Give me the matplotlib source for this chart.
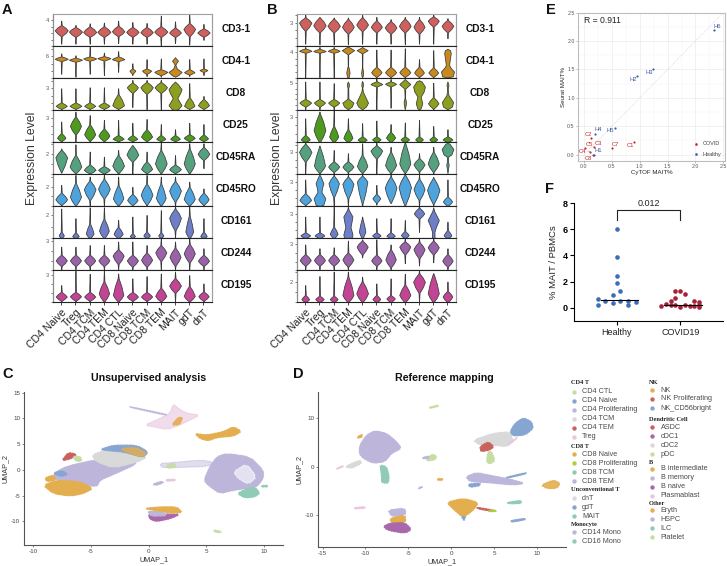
import numpy as np
import matplotlib
matplotlib.use('Agg')
import matplotlib.pyplot as plt

plt.rcParams['font.family'] = ['Liberation Sans', 'DejaVu Sans']
plt.rcParams['axes.unicode_minus'] = False

W, H = 727, 566

cell_types = ['CD4 Naive', 'Treg', 'CD4 TCM', 'CD4 TEM', 'CD4 CTL', 'CD8 Naive',
              'CD8 TCM', 'CD8 TEM', 'MAIT', 'gdT', 'dnT']
genes = ['CD3-1', 'CD4-1', 'CD8', 'CD25', 'CD45RA', 'CD45RO', 'CD161', 'CD244', 'CD195']
gene_colors = ['#D0605E', '#C88A1E', '#8E9E1E', '#4E9A1F', '#55A07E', '#4FA3DC',
               '#6E7FC8', '#9A62A8', '#C24495']

# violins, % of row height: (low, body low, peak, body high, high, width %)
# a list instead of a tuple is a full outline of (y, width %) for the two-lobed ones
a_cd3 = [(8, 32, 50, 66, 80, 100), (8, 30, 46, 60, 67, 100), (8, 30, 45, 62, 72, 100),
         (8, 30, 45, 62, 74, 100), (10, 32, 47, 64, 80, 95), (8, 30, 45, 60, 76, 95),
         (8, 30, 44, 60, 73, 95), (0, 30, 46, 62, 96, 100), (10, 30, 43, 58, 78, 90),
         (5, 32, 54, 72, 100, 90), (20, 30, 43, 56, 70, 95)]
a_cd4 = [(14, 54, 61, 68, 78, 100), (5, 52, 58, 64, 72, 100), (14, 55, 62, 68, 99, 100),
         (10, 56, 63, 69, 80, 100), (20, 54, 60, 68, 85, 95), (10, 15, 24, 30, 47, 45),
         (7, 14, 24, 30, 60, 70), (5, 10, 20, 28, 62, 100),
         [(5, 0), (10, 50), (20, 100), (30, 30), (42, 5), (48, 20), (55, 45), (62, 15), (66, 0)],
         (7, 12, 19, 28, 60, 80), (10, 20, 26, 30, 62, 60)]
a_cd8 = [(3, 5, 14, 24, 69, 85), (3, 5, 14, 24, 69, 90), (3, 5, 14, 24, 72, 85),
         (3, 5, 14, 24, 72, 85), (3, 5, 16, 50, 69, 90), (10, 55, 72, 86, 95, 85),
         (3, 52, 72, 88, 95, 95), (0, 55, 72, 88, 95, 95),
         [(0, 0), (4, 50), (16, 100), (38, 35), (55, 80), (66, 100), (80, 50), (90, 0)],
         (3, 5, 14, 40, 85, 80), (3, 5, 16, 35, 45, 85)]
a_cd25 = [(3, 4, 14, 28, 65, 65), (2, 25, 51, 80, 96, 85), (3, 5, 25, 55, 85, 85),
          (3, 4, 21, 42, 70, 85), (3, 4, 11, 22, 70, 85), (3, 4, 11, 22, 61, 75),
          (3, 4, 18, 40, 73, 85), (3, 4, 11, 22, 57, 70), (3, 4, 11, 22, 41, 75),
          (3, 4, 14, 25, 61, 85), (3, 4, 12, 24, 57, 70)]
a_cd45ra = [(5, 8, 53, 76, 81, 90), (3, 4, 24, 60, 94, 90), (2, 3, 14, 30, 71, 90),
            (2, 3, 14, 25, 55, 90), (3, 4, 27, 60, 76, 90), (0, 40, 62, 90, 92, 90),
            (3, 4, 17, 40, 71, 85), (3, 4, 34, 75, 99, 90), (3, 4, 16, 30, 60, 90),
            (3, 4, 34, 80, 97, 85), (19, 45, 64, 85, 97, 90)]
a_cd45ro = [(0, 5, 22, 42, 67, 90), (0, 3, 30, 72, 98, 85), (0, 20, 53, 80, 93, 90),
            (0, 25, 55, 85, 98, 90), (0, 3, 25, 65, 93, 80), (0, 4, 20, 38, 61, 80),
            (0, 5, 36, 70, 98, 90), (0, 3, 26, 70, 93, 75), (0, 15, 49, 78, 93, 90),
            (0, 3, 23, 60, 77, 85), (0, 5, 22, 42, 56, 80)]
a_cd161 = [(0, 1, 9, 20, 93, 40), (0, 1, 7, 18, 63, 50), (0, 1, 15, 45, 97, 60),
           (0, 1, 24, 60, 97, 75), (0, 1, 14, 35, 58, 70), (0, 1, 7, 15, 68, 40),
           (0, 1, 9, 20, 73, 50), (0, 1, 9, 18, 88, 40), (3, 25, 64, 92, 99, 90),
           (0, 1, 21, 70, 100, 60), (0, 1, 7, 20, 63, 50)]
a_cd244 = [(3, 14, 31, 48, 74, 85), (3, 14, 31, 48, 74, 85), (3, 14, 31, 48, 79, 85),
           (3, 14, 31, 48, 79, 85), (3, 20, 46, 65, 90, 85), (3, 12, 31, 48, 90, 85),
           (3, 12, 33, 55, 79, 85), (3, 30, 56, 78, 100, 85), (3, 15, 42, 70, 90, 85),
           (3, 25, 53, 82, 100, 85), (3, 14, 30, 48, 69, 85)]
a_cd195 = [(3, 5, 18, 32, 54, 85), (1, 5, 19, 32, 99, 85), (1, 5, 18, 32, 89, 85),
           (1, 3, 28, 65, 100, 80), (1, 3, 23, 75, 90, 80), (1, 5, 18, 32, 75, 85),
           (1, 5, 18, 32, 82, 85), (1, 3, 20, 45, 90, 85), (3, 30, 52, 75, 96, 90),
           (1, 3, 20, 50, 85, 85), (1, 5, 19, 33, 59, 80)]

b_cd3 = [(8, 49, 74, 90, 99, 95), (6, 44, 66, 90, 92, 95), (6, 44, 64, 86, 90, 95),
         (6, 40, 61, 85, 90, 90), (8, 48, 68, 90, 99, 90), (8, 44, 61, 80, 92, 85),
         (8, 40, 59, 78, 85, 90), (6, 44, 64, 86, 92, 90), (8, 40, 61, 84, 92, 85),
         (8, 62, 80, 93, 99, 85), (25, 44, 64, 82, 88, 90)]
b_cd4 = [(3, 80, 86, 93, 98, 95), (3, 80, 85, 92, 98, 95), (3, 80, 86, 93, 98, 90),
         [(3, 0), (5, 15), (18, 25), (30, 15), (38, 3), (75, 5), (88, 95), (96, 30), (99, 0)],
         [(3, 0), (8, 10), (18, 15), (28, 8), (35, 3), (78, 5), (88, 85), (95, 20), (98, 0)],
         (3, 5, 19, 35, 90, 80), (3, 5, 19, 35, 90, 85), (3, 5, 19, 35, 94, 85),
         (3, 5, 18, 35, 60, 75), (3, 5, 18, 33, 88, 75),
         [(3, 0), (6, 80), (21, 100), (35, 40), (42, 25), (58, 35), (78, 50), (88, 40), (92, 0)]]
b_cd8 = [(3, 12, 24, 35, 90, 90), (3, 12, 24, 35, 90, 85), (3, 12, 24, 35, 85, 85),
         [(3, 0), (12, 60), (24, 85), (36, 8), (70, 5), (76, 15), (83, 15), (90, 0)],
         [(3, 0), (12, 60), (24, 90), (58, 12), (70, 3), (78, 12), (86, 10), (92, 0)],
         (3, 75, 82, 90, 100, 90), (8, 75, 83, 90, 98, 85),
         [(3, 0), (18, 15), (27, 18), (40, 3), (68, 8), (82, 85), (92, 30), (98, 0)],
         [(3, 0), (6, 25), (22, 50), (43, 25), (58, 70), (74, 90), (90, 40), (94, 0)],
         (3, 6, 22, 40, 86, 80),
         [(3, 0), (12, 70), (26, 85), (48, 15), (68, 3), (78, 15), (84, 10), (90, 0)]]
b_cd25 = [(0, 1, 9, 22, 75, 70), (0, 1, 38, 90, 96, 90), (0, 1, 18, 50, 100, 70),
          (0, 1, 14, 40, 75, 70), (0, 1, 8, 18, 60, 70), (0, 1, 9, 18, 68, 65),
          (0, 1, 15, 32, 57, 70), (0, 1, 9, 18, 62, 65), (0, 1, 9, 18, 70, 60),
          (0, 1, 9, 18, 51, 60), (0, 1, 9, 18, 41, 75)]
b_cd45ra = [(2, 40, 70, 95, 99, 95), (1, 5, 27, 85, 90, 85), (1, 8, 24, 40, 76, 85),
            (1, 8, 24, 40, 66, 85), (1, 5, 26, 60, 97, 80), (1, 50, 74, 90, 99, 90),
            (1, 5, 29, 70, 86, 85), (1, 5, 34, 97, 99, 85), (1, 10, 31, 50, 66, 85),
            (1, 8, 34, 70, 86, 85),
            [(3, 0), (18, 10), (29, 18), (40, 10), (55, 8), (62, 60), (79, 90), (96, 30), (98, 0)]]
b_cd45ro = [(1, 5, 20, 40, 84, 90),
            [(0, 0), (5, 60), (25, 90), (45, 30), (58, 40), (72, 60), (92, 20), (99, 0)],
            (1, 30, 72, 95, 99, 80), (1, 25, 70, 92, 98, 85), (0, 10, 77, 95, 99, 80),
            (5, 12, 25, 38, 67, 60), (10, 12, 58, 92, 99, 90), (0, 4, 60, 98, 99, 95),
            (1, 20, 54, 85, 98, 85), (3, 8, 51, 88, 92, 95), (0, 2, 15, 30, 84, 70)]
b_cd161 = [(0, 1, 9, 18, 68, 75), (0, 1, 9, 18, 68, 75), (0, 1, 14, 35, 99, 60),
           [(0, 0), (2, 60), (12, 70), (35, 40), (68, 70), (90, 10), (100, 0)],
           (0, 1, 21, 60, 68, 50), (0, 1, 9, 18, 63, 65), (0, 1, 8, 18, 63, 65),
           (0, 1, 10, 22, 57, 60), (20, 62, 78, 95, 100, 80),
           [(0, 0), (2, 20), (20, 18), (35, 40), (57, 85), (85, 15), (97, 0)],
           (0, 1, 9, 25, 52, 60)]
b_cd244 = [(3, 15, 32, 50, 81, 85), (3, 15, 32, 50, 69, 85), (3, 15, 32, 50, 72, 85),
           (3, 12, 34, 55, 93, 85), (40, 50, 74, 92, 97, 85), (3, 15, 31, 48, 97, 80),
           (3, 10, 34, 65, 81, 80), (22, 50, 74, 90, 100, 85), (15, 38, 66, 88, 99, 85),
           (25, 50, 72, 92, 99, 85), (3, 12, 30, 50, 69, 80)]
b_cd195 = [(0, 1, 10, 22, 54, 60), (0, 1, 10, 20, 82, 65), (0, 1, 10, 20, 96, 60),
           (0, 1, 23, 80, 96, 85), (0, 1, 28, 65, 80, 90), (0, 1, 10, 22, 59, 60),
           (0, 1, 12, 22, 75, 65), (0, 1, 23, 55, 89, 85), (3, 30, 64, 90, 99, 90),
           (0, 1, 28, 88, 91, 85), (0, 1, 18, 35, 65, 75)]

a_rows = [a_cd3, a_cd4, a_cd8, a_cd25, a_cd45ra, a_cd45ro, a_cd161, a_cd244, a_cd195]
b_rows = [b_cd3, b_cd4, b_cd8, b_cd25, b_cd45ra, b_cd45ro, b_cd161, b_cd244, b_cd195]

# top of the y range of each row, the labelled tick and the tick step
a_ymax = [4.88, 8.8, 4.35, 4.0, 3.2, 3.25, 2.75, 3.3, 3.5]
a_tick = [4, 6, 3, 3, 2, 2, 2, 3, 3]
a_step = [1, 2, 1, 1, 1, 1, 1, 1, 1]
b_ymax = [4.05, 4.9, 5.9, 3.75, 4.4, 3.9, 4.0, 3.65, 3.2]
b_tick = [3, 4, 5, 3, 3, 3, 3, 3, 2]
b_step = [1, 1, 1, 1, 1, 1, 1, 1, 1]

# panel E
healthy_names = ['H1', 'H2', 'H3', 'H4', 'H5', 'H6']
healthy_cytof = [0.18, 0.95, 1.24, 0.19, 0.55, 2.33]
healthy_seurat = [0.0, 1.39, 1.51, 0.37, 0.47, 2.20]
covid_names = ['C1', 'C2', 'C3', 'C4', 'C5', 'C7', 'C8']
covid_cytof = [0.90, 0.126, 0.18, 0.11, 0.02, 0.51, 0.17]
covid_seurat = [0.23, 0.29, 0.14, 0.05, 0.12, 0.12, -0.01]
healthy_label_px = [(4.7, 4), (-3.9, -3.3), (-3.7, -3.3), (3.3, 3.7), (-4.3, -3), (3.3, 3.3)]
covid_label_px = [(-4, -4), (-3, 3.3), (4.7, 3), (-8, 0.7), (4.3, 3.7), (3, 3), (-4.7, -3.3)]

# panel F
f_groups = ['Healthy', 'COVID19']
f_healthy = [6.0, 3.9, 2.4, 1.9, 1.25, 0.95, 0.7, 0.55, 0.55, 0.5, 0.45, 0.35, 0.2, 0.2]
f_healthy_off = [0, 0, 0, 0, 0.057, -0.057, -0.29, -0.177, 0.057, 0.177, 0.297, -0.057, -0.29, 0.177]
f_covid = [0.15, 0.28, 0.2, 0.54, 0.74, 1.25, 1.3, 1.05, 0.23, 0.03, 0.18, 0.15, 0.15, 0.48, 0.43, 0.03, 0.23]
f_covid_off = [-0.297, -0.229, -0.151, -0.151, -0.078, -0.078, 0, 0.073, -0.078, 0, 0.073,
               0.146, 0.219, 0.219, 0.292, 0.292, 0.292]

# umap colours
LAV, TEAL, ORG, GRY = '#BEB5DB', '#8FCBB5', '#E3AE4E', '#D9D9D9'
BLU, RED, PUR, PNK = '#86A6D1', '#C9625C', '#A868AB', '#E8C6DF'
LGR, YGR = '#C6DDA3', '#B2CC3E'

# outlines of the cell clouds in umap coordinates: (colour, alpha, xs, ys)
umap_c = [
    (PNK, 0.6, [-0.32, 0.98, 1.85, 2.14, 2.57, 3.3, 4.45, 3.58, 2.7, 1.56, 0.4],
     [8.7, 10, 11, 12.8, 11.95, 11, 10.65, 9.7, 8.7, 7.85, 8.4]),
    (ORG, 0.9, [2, 2.57, 2.95, 2.7], [8.7, 10.2, 10.2, 8.8]),
    (LAV, 0.8, [-1.6, 1.56, 1.5, -1.6], [12.3, 10.8, 10.6, 12.15]),
    (ORG, 1, [4, 5, 6.47, 7.34, 8.06, 7.34, 5.9, 5.17, 4.45],
     [7.08, 6.75, 7.4, 8.4, 7.5, 6.56, 6.3, 5.65, 6.1]),
    (LAV, 0.45, [0.98, 2.14, 4.45, 5.6, 5.3, 2.28, 1.13], [1.23, 1.43, 1.9, 1.56, 0.7, 0.45, 0.45]),
    (LGR, 0.9, [1.5, 2.2, 2.4, 1.7], [0.9, 1.3, 0.6, 0.3]),
    (LAV, 1, [0.32, 1.13, 1.27, 0.69], [-2.8, -2.2, -2.5, -3]),
    (PNK, 1, [1.5, 2.3, 2.3, 1.6], [-1.9, -1.8, -2.1, -2.2]),
    (LAV, 1, [6.76, 8.79, 9.94, 9.94, 9.36, 8.5, 7.34, 6.18, 5.17, 4.8, 5.3, 5.9],
     [3.18, 2.53, -0.06, -1.69, -3.31, -3.6, -3.96, -4.6, -3, -2, 0.58, 2.53]),
    ('white', 0.6, [7.34, 8.5, 9.36, 8.64, 7.8], [-0.4, 1.2, -1.4, -2.8, -1.7]),
    (TEAL, 1, [8.35, 9.2, 9.65, 9.2, 8.35, 7.69], [-3.8, -3.3, -4.5, -5.26, -5.45, -4.6]),
    (TEAL, 1, [9.8, 10.3, 10.3, 9.8], [-3.1, -3.0, -3.3, -3.3]),
    (LAV, 1, [-8.27, -7.11, -4.5, -1.5, -1.0, -3.06, -4.22, -4.5, -5.95, -7.97],
     [-0.71, 0.71, 2.0, 1.8, 1.2, -0.9, -2, -3.3, -2.66, -2.14]),
    (GRY, 1, [-4.94, -3.64, -0.1, -1.0, -3.06, -4.5], [2.86, 3.96, 2.53, 1.5, 0.4, 1.56]),
    (BLU, 1, [-8.3, -7.5, -7.0, -7.6], [-0.7, -0.1, -0.9, -1.3]),
    (ORG, 1, [-9.13, -7.97, -5.95, -4.8, -5.66, -6.8, -8.27],
     [-3, -2, -2.3, -3.6, -4.6, -5.1, -4.6]),
    (ORG, 1, [-9.0, -8.3, -8.0, -8.8], [-1.6, -1.0, -1.9, -2.3]),
    (BLU, 1, [-4.22, -3.06, -1.04, -0.03, -0.46, -2.2, -3.35],
     [3.96, 4.8, 4.8, 3.5, 2.4, 3.5, 3.7]),
    (ORG, 0.8, [-2.5, -1.04, -0.17, -0.6, -1.76], [4.16, 4.35, 3.18, 2.53, 3.3]),
    (RED, 1, [-7.54, -6.97, -6.24, -6.68], [1.75, 3.38, 3.05, 2.2]),
    (LGR, 1, [-6.6, -5.9, -5.8, -6.3], [2.6, 2.6, 1.7, 1.7]),
    (PUR, 1, [-0.03, 1.56, 2.72, 2, 0.7, 0.12], [-8.6, -8.6, -8.6, -9.4, -10.05, -9.6]),
    (LAV, 1, [-0.1, 1.2, 1.6, 0.2], [-8.0, -8.2, -8.9, -9.0]),
    (ORG, 1, [-0.4, 0.98, 2.43, 2.95, 1.9, 0.6], [-7.5, -7.2, -7.2, -8.3, -8.4, -7.9]),
    (LGR, 1, [5.6, 6.2, 6.3, 5.8], [-11.7, -11.9, -12.2, -12.1]),
]
umap_d = [
    (LAV, 1, [-10.65, -9.88, -8.9, -7.54, -6.38, -5.8, -6.96, -7.74, -9.1, -10.26, -10.73],
     [4.48, 6.55, 7.45, 6.9, 5.17, 3.8, 2.76, 1.03, 0.69, 1.72, 2.76]),
    (ORG, 1, [-10.9, -10.4, -10.4, -10.9], [6.2, 6.7, 6.1, 5.9]),
    (GRY, 1, [-12.4, -10.65, -10.46, -11.63], [0, 1.38, 0.69, -0.34]),
    (TEAL, 1, [-8.32, -7.54, -7.23, -7.35, -8.13, -8.13], [0.34, 0, -2.07, -3.45, -3.3, -1.72]),
    (PNK, 1, [-13.3, -12.6, -12.6, -13.3], [-0.5, 0, 0.2, -0.3]),
    (LAV, 1, [-7.35, -5.4, -5.3, -6.96], [-9, -8.6, -10, -10.3]),
    (ORG, 1, [-7.15, -5.4, -5.3, -6.96], [-10.7, -10, -11.6, -11.7]),
    (PUR, 1, [-7.93, -7.15, -5.4, -4.63, -5.4, -7.35], [-12.4, -11.7, -11.6, -13, -13.8, -13.2]),
    (ORG, 1, [-0.54, 1.4, 3.2, 2.57, 1.6, 1.2, 0.23], [-7.4, -6.55, -7.45, -9, -10.3, -10.3, -8.76]),
    (BLU, 1, [1.2, 1.67, 1.48], [-10.3, -10.3, -11.2]),
    (RED, 1, [2.95, 4.9, 4.9, 3.15], [-8.4, -9, -9.3, -8.76]),
    (YGR, 1, [4.4, 5.2, 5.2, 4.4], [-9, -9, -9.3, -9.3]),
    (GRY, 1, [2.57, 4.9, 6.84, 7.23, 6.45, 4.9, 3.3], [5.5, 6.9, 7.24, 5.17, 4.14, 4.48, 4.48]),
    (BLU, 1, [7.43, 8.4, 9.37, 9.56, 8.6, 7.23, 6.84], [8.97, 10.14, 9.3, 7.93, 6.55, 6.34, 7.24]),
    (PNK, 1, [6.45, 7.8, 7.2], [4.48, 6.2, 5.17]),
    (RED, 1, [3.34, 4.3, 4.98, 4.5, 3.46], [4.14, 5.17, 4.14, 3.45, 3.1]),
    (LGR, 1, [4.3, 4.7, 5.1, 4.5, 4.1], [3.1, 3.1, 1.24, 0.55, 1.03]),
    (LAV, 1, [1.7, 2.95, 4.3, 6.84, 8.6, 7.23, 4.3, 2.18], [-2.07, -1.24, -1.72, -2.6, -3.45, -3.8, -3.3, -3.1]),
    (BLU, 1, [1.98, 3.34, 3.34, 2.18], [-3.6, -3.45, -3.93, -4.28]),
    (BLU, 1, [6.45, 8.7, 8.7, 6.45], [-2.2, -1.24, -1.5, -2.4]),
    (ORG, 0.9, [10.5, 11.9, 12.7, 12.3, 11.1], [-3.8, -2.76, -3.45, -4.5, -4.5]),
    (BLU, 1, [6.92, 8.6, 8.6, 7.04], [-11.17, -10.7, -11, -11.5]),
    (TEAL, 1, [6.45, 8.1, 8.2, 6.84], [-7.45, -6.97, -7.6, -7.7]),
    (PNK, 1, [-11.35, -10.07, -10.07, -11.2], [-8.5, -8.28, -8.6, -8.76]),
    (LGR, 1, [-3, -2.3, -1.7, -1.9], [1.17, 2.6, 2.2, 1.38]),
    (LAV, 1, [-3.3, -2.6, -2.6, -3.3], [1.9, 2.2, 1.8, 1.6]),
    (LGR, 1, [-2.57, -1.52, -1.52, -2.5], [12.28, 12.76, 12.48, 12.07]),
    (ORG, 1, [-1.6, -1.0, -1.0, -1.6], [-2.5, -2.5, -2.8, -2.8]),
    (LAV, 1, [-3.8, -3.4, -3.4, -3.8], [-4.4, -4.1, -4.3, -4.6]),
]

# legend of panels C and D
legend_col1 = [
    ('CD4 T', [('CD4 CTL', LGR), ('CD4 Naive', BLU), ('CD4 Proliferating', LAV),
               ('CD4 TCM', GRY), ('CD4 TEM', RED), ('Treg', PNK)]),
    ('CD8 T', [('CD8 Naive', ORG), ('CD8 Proliferating', YGR), ('CD8 TCM', TEAL), ('CD8 TEM', LAV)]),
    ('Unconventional T', [('dnT', GRY), ('gdT', BLU), ('MAIT', TEAL)]),
    ('Monocyte', [('CD14 Mono', LAV), ('CD16 Mono', TEAL)]),
]
legend_col2 = [
    ('NK', [('NK', ORG), ('NK Proliferating', RED), ('NK_CD56bright', BLU)]),
    ('Dendritic Cell', [('ASDC', RED), ('cDC1', PUR), ('cDC2', GRY), ('pDC', LGR)]),
    ('B', [('B intermediate', ORG), ('B memory', LAV), ('B naive', PUR), ('Plasmablast', PNK)]),
    ('Other', [('Eryth', ORG), ('HSPC', LAV), ('ILC', TEAL), ('Platelet', LGR)]),
]


def ax_px(fig, x0, y0, x1, y1):
    # y counted from the top of the image, like in the reference
    return fig.add_axes([x0 / W, 1 - y1 / H, (x1 - x0) / W, (y1 - y0) / H])


def outline(entry):
    if isinstance(entry, list):
        return zip(*entry)
    lo, b0, peak, b1, hi, w = entry
    # shoulders half way to the peak keep the body full, not a flat diamond
    return ((lo, b0, (b0 + peak) / 2, peak, (peak + b1) / 2, b1, hi),
            (1, 8, 0.64 * w, w, 0.64 * w, 8, 1))


def round_corners(xs, ys):
    # one round of corner cutting, only to take the hard edge off an outline
    pts = np.column_stack([xs, ys])
    nxt = np.roll(pts, -1, axis=0)
    out = np.empty((2 * len(pts), 2))
    out[0::2] = 0.8 * pts + 0.2 * nxt
    out[1::2] = 0.2 * pts + 0.8 * nxt
    return out[:, 0], out[:, 1]


def draw_violins(fig, x0, x1, y_top, rows, ymax, ticks, steps):
    row_h = 32.0
    for r, gene in enumerate(genes):
        ax = ax_px(fig, x0, y_top + r * row_h, x1, y_top + (r + 1) * row_h)
        for i, entry in enumerate(rows[r]):
            ys, ws = outline(entry)
            ys = np.array(ys) / 100 * ymax[r]
            half = np.array(ws) / 100 * 0.46
            ax.fill_betweenx(ys, i + 1 - half, i + 1 + half, facecolor=gene_colors[r],
                             edgecolor='#3a3a3a', linewidth=0.55)
        ax.set_xlim(0.4, 11.6)
        ax.set_ylim(0, ymax[r])
        major = [ticks[r]]
        minor = [t for t in np.arange(0, ymax[r], steps[r]) if t != ticks[r]]
        ax.set_yticks(major)
        ax.set_yticks(minor, minor=True)
        ax.tick_params(axis='y', which='both', length=1.8, width=0.5, labelsize=4,
                       pad=1, color='#444444', labelcolor='#555555')
        ax.spines['left'].set(color='#8c8c8c', linewidth=0.9)
        ax.spines['right'].set(color='#a0a0a0', linewidth=0.9)
        ax.spines['bottom'].set(color='#222222', linewidth=0.8)
        ax.spines['top'].set(color='#222222' if r else '#a0a0a0', linewidth=0.8)
        ax.set_xticks(range(1, 12))
        if r == len(genes) - 1:
            ax.set_xticklabels(cell_types, rotation=45, ha='right', rotation_mode='anchor',
                               fontsize=7.6, color='#222222')
            ax.tick_params(axis='x', length=2, width=0.5, pad=1.5)
        else:
            ax.tick_params(axis='x', length=0, labelbottom=False)


def draw_umap(ax, clouds):
    for color, alpha, xs, ys in clouds:
        sx, sy = round_corners(xs, ys)
        ax.fill(sx, sy, facecolor=color, edgecolor=color, alpha=alpha, linewidth=0.7)
        # dotted edge gives the clouds a speckled rim
        ax.fill(sx, sy, fill=False, edgecolor=color, alpha=alpha * 0.6, linewidth=1.3,
                linestyle=(0, (0.5, 1.2)))
    for s in ['top', 'right']:
        ax.spines[s].set_visible(False)
    for s in ['left', 'bottom']:
        ax.spines[s].set(color='#555555', linewidth=0.8)
    ax.tick_params(length=1.5, width=0.5, labelsize=4.5, pad=1.5, color='#555555', labelcolor='#444444')
    ax.set_xlabel('UMAP_1', fontsize=5.2, color='#333333', labelpad=1.5)
    ax.set_ylabel('UMAP_2', fontsize=5.2, color='#333333', labelpad=1.5)


def draw_legend(ax, column, x_head, x_dot, x_text, head_y, first_gap):
    for (head, items), y, gap in zip(column, head_y, first_gap):
        ax.text(x_head, y, head, fontsize=4.6, fontweight='bold', family='Liberation Serif',
                va='center', color='#222222')
        yy = y + gap
        for name, color in items:
            ax.scatter(x_dot, yy, s=10, color=color, linewidths=0)
            ax.text(x_text, yy, name, fontsize=5.2, va='center', color='#4a4a4a')
            yy += 9


fig = plt.figure(figsize=(W / 100, H / 100), dpi=100)

# panels A and B
draw_violins(fig, 52.7, 212, 14.3, a_rows, a_ymax, a_tick, a_step)
draw_violins(fig, 296.7, 456, 14.3, b_rows, b_ymax, b_tick, b_step)
for r, gene in enumerate(genes):
    y = 1 - (14.3 + (r + 0.5) * 32 - 1) / H
    fig.text(236 / W, y, gene, fontsize=7.3, fontweight='bold', ha='center', va='center', color='#111111')
    fig.text(480 / W, y, gene, fontsize=7.3, fontweight='bold', ha='center', va='center', color='#111111')
fig.text(32 / W, 1 - 158 / H, 'Expression Level', fontsize=8.8, rotation=90, ha='center', va='center', color='#333333')
fig.text(277 / W, 1 - 158 / H, 'Expression Level', fontsize=8.8, rotation=90, ha='center', va='center', color='#333333')

# panel E
ax = ax_px(fig, 577.7, 12.7, 725, 160.7)
ax.plot([-0.11, 2.53], [-0.11, 2.53], color='#c8c8c8', linewidth=0.5, linestyle=':')
ax.scatter(covid_cytof, covid_seurat, s=2.5, color='#C0272D', linewidths=0, label='COVID', zorder=3)
ax.scatter(healthy_cytof, healthy_seurat, s=2.5, color='#3B5BA9', linewidths=0, label='Healthy', zorder=3)
for names, xs, ys, offs, col in [(healthy_names, healthy_cytof, healthy_seurat, healthy_label_px, '#3B5BA9'),
                                 (covid_names, covid_cytof, covid_seurat, covid_label_px, '#C0272D')]:
    for n, x, y, (dx, dy) in zip(names, xs, ys, offs):
        arrow = dict(arrowstyle='-', linewidth=0.3, color=col) if abs(dx) >= 8 else None
        ax.annotate(n, (x, y), xytext=(dx * 0.72, dy * 0.72), textcoords='offset points', fontsize=4.2,
                    color=col, ha='center', va='center', arrowprops=arrow)
ax.text(0, 2.36, 'R = 0.911', fontsize=6.2, va='center', color='#222222')
ax.set_xlim(-0.113, 2.53)
ax.set_ylim(-0.106, 2.5)
ax.set_xticks(np.arange(0, 2.6, 0.5))
ax.set_yticks(np.arange(0, 2.6, 0.5))
ax.set_xticks(np.arange(0.25, 2.5, 0.5), minor=True)
ax.set_yticks(np.arange(0.25, 2.5, 0.5), minor=True)
ax.grid(which='major', color='#ececec', linewidth=0.5)
ax.grid(which='minor', color='#f5f5f5', linewidth=0.3)
ax.set_axisbelow(True)
ax.tick_params(which='minor', length=0)
ax.tick_params(which='major', length=1.2, width=0.4, labelsize=3.8, pad=1, color='#888888', labelcolor='#555555')
for s in ax.spines.values():
    s.set(color='#bdbdbd', linewidth=0.8)
ax.set_xlabel('CyTOF MAIT%', fontsize=4.4, labelpad=1, color='#222222')
ax.set_ylabel('Seurat MAIT%', fontsize=4.4, labelpad=1, color='#222222')
ax.legend(loc='lower right', frameon=False, fontsize=4, handletextpad=0.2, labelspacing=1.0,
          borderaxespad=0.3, markerscale=1.2, labelcolor='#444444')

# panel F
ax = ax_px(fig, 574, 203.3, 723, 321)
ax.scatter(np.array(f_healthy_off), f_healthy, s=11, color='#3D6DB5', linewidths=0, zorder=2)
ax.scatter(1 + np.array(f_covid_off), f_covid, s=11, color='#A8213A', linewidths=0, zorder=2)
ax.plot([-0.25, 0.34], [np.median(f_healthy)] * 2, color='black', linewidth=0.8, zorder=3)
ax.plot([0.75, 1.34], [np.median(f_covid)] * 2, color='black', linewidth=0.8, zorder=3)
ax.plot([0, 0, 1, 1], [6.73, 7.47, 7.47, 6.73], color='#222222', linewidth=0.8)
ax.text(0.5, 8.0, '0.012', fontsize=6.5, ha='center', va='center', color='#222222')
ax.set_xlim(-0.67, 1.67)
ax.set_ylim(-1.02, 8)
ax.set_xticks([0, 1])
ax.set_xticklabels(f_groups, fontsize=6.5, color='#222222')
ax.set_yticks([0, 2, 4, 6, 8])
ax.tick_params(axis='y', labelsize=6.5, length=3, width=0.8, pad=1.5)
ax.tick_params(axis='x', length=3, width=0.8, pad=2)
for lab in ax.get_yticklabels():
    lab.set_fontweight('bold')
for s in ['top', 'right']:
    ax.spines[s].set_visible(False)
ax.set_ylabel('% MAIT / PBMCs', fontsize=6.8, labelpad=3, color='#222222', y=0.5)
ax.patch.set_alpha(0)

# panels C and D
ax = ax_px(fig, 24.3, 391.7, 283, 545.3)
draw_umap(ax, umap_c)
ax.set_xlim(-10.78, 11.65)
ax.set_ylim(-14.66, 15.2)
ax.set_xticks([-10, -5, 0, 5, 10])
ax.set_yticks([-10, -5, 0, 5, 10, 15])

ax = ax_px(fig, 318.3, 392.3, 565.7, 547.3)
draw_umap(ax, umap_d)
ax.set_xlim(-15.5, 13.34)
ax.set_ylim(-16.7, 15.4)
ax.set_xticks([-15, -10, -5, 0, 5, 10])
ax.set_yticks([-10, 0, 10])
ax.patch.set_alpha(0)

fig.text(148.7 / W, 1 - 378 / H, 'Unsupervised analysis', fontsize=7.7, fontweight='bold',
         ha='center', va='center', color='#111111')
fig.text(444.3 / W, 1 - 378 / H, 'Reference mapping', fontsize=7.7, fontweight='bold',
         ha='center', va='center', color='#111111')

# legend, drawn in pixels of its own corner of the image
leg = ax_px(fig, 550, 330, 727, 566)
leg.set_xlim(0, 177)
leg.set_ylim(236, 0)
leg.axis('off')
draw_legend(leg, legend_col1, 20.7, 23.5, 32, [52.7, 116, 159.3, 194.3], [9, 8.3, 9, 8])
draw_legend(leg, legend_col2, 99, 102.3, 110.7, [52.7, 89.7, 132.3, 173.3], [7.3, 7.7, 6.3, 7])

# panel letters
for letter, x, y in [('A', 2, 13.5), ('B', 267, 13.5), ('E', 546, 13.5),
                     ('F', 545.5, 192.7), ('C', 2, 377.7), ('D', 292.5, 377.7)]:
    fig.text(x / W, 1 - y / H, letter, fontsize=10.5, fontweight='bold', color='#111111')

fig.savefig('out.png', dpi=100)
